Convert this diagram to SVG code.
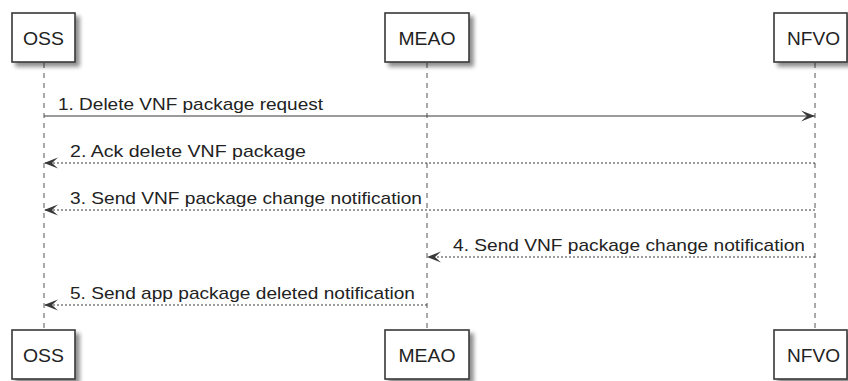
<svg xmlns="http://www.w3.org/2000/svg" width="848" height="381" viewBox="0 0 848 381">
<defs>
<filter id="sh" x="-20%" y="-20%" width="150%" height="150%">
<feGaussianBlur in="SourceAlpha" stdDeviation="2"/>
<feOffset dx="4" dy="4" result="b"/>
<feComponentTransfer><feFuncA type="linear" slope="0.45"/></feComponentTransfer>
<feMerge><feMergeNode/><feMergeNode in="SourceGraphic"/></feMerge>
</filter>
<marker id="ah" markerUnits="userSpaceOnUse" markerWidth="16" markerHeight="14" refX="15" refY="6" orient="auto">
<path d="M15,6 L1,0.5 L7,6 L1,11.5 Z" fill="#383838"/>
</marker>
</defs>
<style>
.box{fill:#fff;stroke:#383838;stroke-width:1.6;filter:url(#sh)}
.bl{font-family:"Liberation Sans",Arial,sans-serif;font-size:18px;fill:#222;text-anchor:middle}
.ml{font-family:"Liberation Sans",Arial,sans-serif;font-size:17px;fill:#222}
.life{stroke:#555;stroke-width:1;stroke-dasharray:5,5;fill:none}
.sol{stroke:#383838;stroke-width:1.2;fill:none;marker-end:url(#ah)}
.dsh{stroke:#383838;stroke-width:1;stroke-dasharray:2,2;fill:none;marker-end:url(#ah)}
</style>
<g id="lifelines">
<line class="life" x1="44" y1="63" x2="44" y2="330"/>
<line class="life" x1="427" y1="63" x2="427" y2="330"/>
<line class="life" x1="815" y1="63" x2="815" y2="330"/>
</g>
<g id="OSS">
<rect class="box" x="12" y="13" width="63" height="49"/>
<text class="bl" x="43.5" y="45" textLength="41" lengthAdjust="spacingAndGlyphs">OSS</text>
<rect class="box" x="12" y="330" width="63" height="49"/>
<text class="bl" x="43.5" y="362" textLength="41" lengthAdjust="spacingAndGlyphs">OSS</text>
</g>
<g id="MEAO">
<rect class="box" x="385" y="13" width="84" height="49"/>
<text class="bl" x="427" y="45" textLength="57" lengthAdjust="spacingAndGlyphs">MEAO</text>
<rect class="box" x="385" y="330" width="84" height="49"/>
<text class="bl" x="427" y="362" textLength="57" lengthAdjust="spacingAndGlyphs">MEAO</text>
</g>
<g id="NFVO">
<rect class="box" x="774" y="13" width="73" height="49"/>
<text class="bl" x="813.5" y="45" textLength="53" lengthAdjust="spacingAndGlyphs">NFVO</text>
<rect class="box" x="774" y="330" width="73" height="49"/>
<text class="bl" x="813.5" y="362" textLength="53" lengthAdjust="spacingAndGlyphs">NFVO</text>
</g>
<g id="connectors">
<line class="sol" x1="44" y1="116" x2="815" y2="116"/>
<text class="ml" x="58" y="110" textLength="265" lengthAdjust="spacingAndGlyphs">1. Delete VNF package request</text>
<line class="dsh" x1="815" y1="163" x2="44" y2="163"/>
<text class="ml" x="70" y="157" textLength="236" lengthAdjust="spacingAndGlyphs">2. Ack delete VNF package</text>
<line class="dsh" x1="815" y1="210" x2="44" y2="210"/>
<text class="ml" x="70" y="204" textLength="352" lengthAdjust="spacingAndGlyphs">3. Send VNF package change notification</text>
<line class="dsh" x1="815" y1="257" x2="427" y2="257"/>
<text class="ml" x="453" y="251" textLength="352" lengthAdjust="spacingAndGlyphs">4. Send VNF package change notification</text>
<line class="dsh" x1="427" y1="305" x2="44" y2="305"/>
<text class="ml" x="70" y="299" textLength="345" lengthAdjust="spacingAndGlyphs">5. Send app package deleted notification</text>
</g>
</svg>
